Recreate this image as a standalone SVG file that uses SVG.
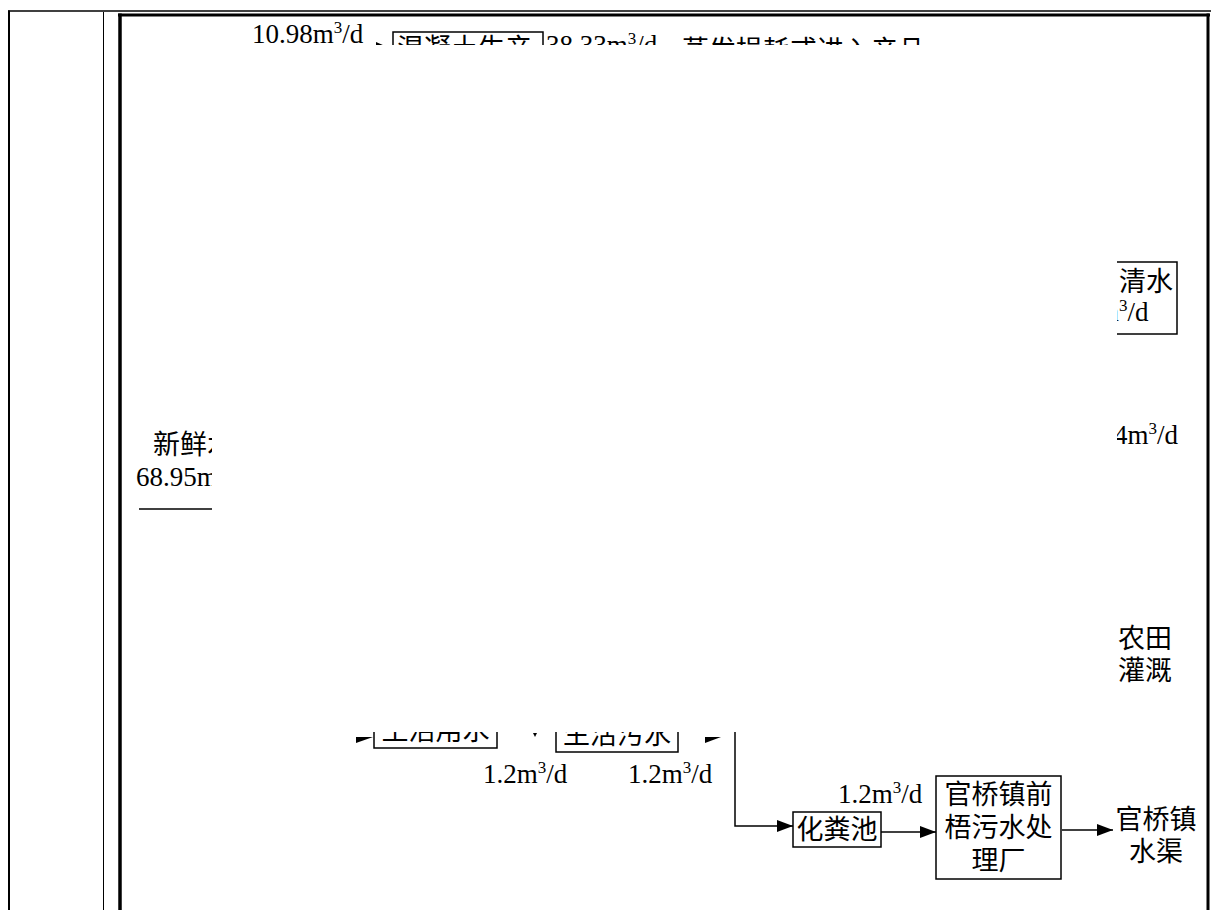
<svg xmlns="http://www.w3.org/2000/svg" width="1211" height="910" viewBox="0 0 1211 910">
<style>
text{font-family:"Liberation Serif","Noto Sans CJK SC",serif;font-size:27px;fill:#000}
.sup{font-size:17px}
.box{fill:none;stroke:#000;stroke-width:1.5}
.ln{fill:none;stroke:#000;stroke-width:1.5}
.ah{fill:#000;stroke:none}
</style>
<defs>
<clipPath id="vis">
<rect x="121" y="16" width="1086" height="29"/>
<rect x="121" y="16" width="91" height="894"/>
<rect x="1117" y="16" width="90" height="894"/>
<rect x="121" y="732" width="1086" height="178"/>
</clipPath>
<marker id="arr" viewBox="0 0 16 12" refX="16" refY="6" markerWidth="16" markerHeight="12" markerUnits="userSpaceOnUse" orient="auto">
<path d="M0,0 L16,6 L0,12 Z" fill="#000"/>
</marker>
</defs>
<rect width="1211" height="910" fill="#fff"/>
<g id="frame">
<line x1="8" y1="11" x2="1211" y2="11" stroke="#000" stroke-width="1.5"/>
<line x1="9" y1="10.5" x2="9" y2="910" stroke="#000" stroke-width="2"/>
<line x1="103.5" y1="12" x2="103.5" y2="910" stroke="#000" stroke-width="1"/>
<line x1="118" y1="15" x2="1210" y2="15" stroke="#000" stroke-width="3"/>
<line x1="120" y1="13.5" x2="120" y2="910" stroke="#000" stroke-width="3.5"/>
<line x1="1208" y1="13.5" x2="1208" y2="910" stroke="#000" stroke-width="3"/>
</g>
<g clip-path="url(#vis)">
<g id="connectors">
<polygon class="ah" points="376,42 392,49 376,56"/>
<line class="ln" x1="139" y1="509" x2="260" y2="509"/>
<polygon class="ah" points="356,737 373,737 356,743"/>
<polygon class="ah" points="533,733 537,733 535,737"/>
<polygon class="ah" points="705,737 721,737 705,743"/>
<polyline class="ln" points="735,732 735,826 793,826" marker-end="url(#arr)"/>
<line class="ln" x1="881" y1="832" x2="936" y2="832" marker-end="url(#arr)"/>
<line class="ln" x1="1062" y1="830" x2="1113" y2="830" marker-end="url(#arr)"/>
</g>
<g id="label-top">
<text x="252" y="43">10.98m<tspan class="sup" dy="-10">3</tspan><tspan dy="10">/d</tspan></text>
</g>
<g id="node-hunningtu">
<rect class="box" x="393" y="32" width="150" height="40"/>
<text x="397" y="58">混凝土生产</text>
</g>
<g id="label-3833">
<text x="546" y="54">38.33m<tspan class="sup" dy="-10">3</tspan><tspan dy="10">/d</tspan></text>
</g>
<g id="node-zhengfa">
<text x="682" y="60">蒸发损耗或进入产品</text>
</g>
<g id="node-xinxianshui">
<text x="153" y="454">新鲜水</text>
<text x="136" y="486">68.95m<tspan class="sup" dy="-10">3</tspan><tspan dy="10">/d</tspan></text>
</g>
<g id="node-qingshui">
<rect class="box" x="1060" y="262" width="117" height="72"/>
<text x="1119" y="291">清水</text>
<text x="1098" y="321">m<tspan class="sup" dy="-10">3</tspan><tspan dy="10">/d</tspan></text>
</g>
<g id="label-4m3">
<text x="1114" y="444">4m<tspan class="sup" dy="-10">3</tspan><tspan dy="10">/d</tspan></text>
</g>
<g id="node-nongtian">
<text x="1118" y="648">农田</text>
<text x="1118" y="680">灌溉</text>
</g>
<g id="node-shenghuoyongshui">
<rect class="box" x="374" y="710" width="123" height="38"/>
<text x="435.5" y="740" text-anchor="middle">生活用水</text>
</g>
<g id="node-shenghuowushui">
<rect class="box" x="556" y="712" width="122" height="40"/>
<text x="617" y="744" text-anchor="middle">生活污水</text>
</g>
<g id="labels-bottom">
<text x="483" y="783">1.2m<tspan class="sup" dy="-10">3</tspan><tspan dy="10">/d</tspan></text>
<text x="628" y="783">1.2m<tspan class="sup" dy="-10">3</tspan><tspan dy="10">/d</tspan></text>
<text x="838" y="803">1.2m<tspan class="sup" dy="-10">3</tspan><tspan dy="10">/d</tspan></text>
</g>
<g id="node-huafenchi">
<rect class="box" x="793" y="812" width="88" height="35"/>
<text x="837" y="839" text-anchor="middle">化粪池</text>
</g>
<g id="node-wushuichuli">
<rect class="box" x="936" y="776" width="125" height="103"/>
<text x="998.5" y="804" text-anchor="middle">官桥镇前</text>
<text x="998.5" y="837" text-anchor="middle">梧污水处</text>
<text x="998.5" y="870" text-anchor="middle">理厂</text>
</g>
<g id="node-shuiqu">
<text x="1156" y="829" text-anchor="middle">官桥镇</text>
<text x="1156" y="861" text-anchor="middle">水渠</text>
</g>
</g>
</svg>
